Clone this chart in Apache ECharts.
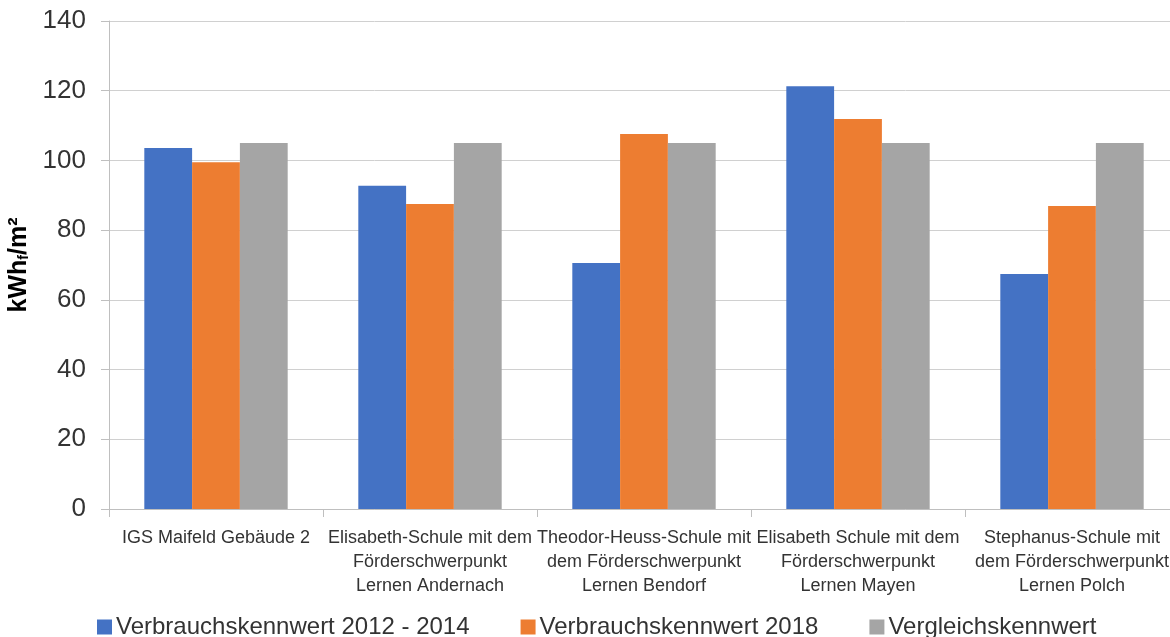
<!DOCTYPE html>
<html><head><meta charset="utf-8">
<script src="https://cdn.jsdelivr.net/npm/echarts@6/dist/echarts.min.js"></script>
<style>html,body{margin:0;padding:0;background:#fff}#c{width:1170px;height:637px}</style>
</head><body><div id="c"></div>
<script>
const categories = [
  "IGS Maifeld Gebäude 2",
  "Elisabeth-Schule mit dem\nFörderschwerpunkt\nLernen Andernach",
  "Theodor-Heuss-Schule mit\ndem Förderschwerpunkt\nLernen Bendorf",
  "Elisabeth Schule mit dem\nFörderschwerpunkt\nLernen Mayen",
  "Stephanus-Schule mit\ndem Förderschwerpunkt\nLernen Polch"
];
const seriesNames = ["Verbrauchskennwert 2012 - 2014", "Verbrauchskennwert 2018", "Vergleichskennwert"];
const values2012_2014 = [103.6, 92.7, 70.6, 121.3, 67.4];
const values2018 = [99.5, 87.5, 107.6, 111.9, 86.9];
const valuesVergleich = [105, 105, 105, 105, 105];
const colors = ["#4472C4", "#ED7D31", "#A5A5A5"];

const font = "Liberation Sans, sans-serif";
const chart = echarts.init(document.getElementById('c'));
chart.setOption({
  animation: false,
  textStyle: { fontFamily: font },
  grid: { left: 109, width: 1070, top: 21, bottom: 128, containLabel: false, outerBoundsMode: 'none' },
  legend: {
    top: 610, left: 92,
    itemWidth: 15, itemHeight: 15, itemGap: 51,
    icon: 'rect',
    textStyle: { fontSize: 24, color: '#333333', fontFamily: font, padding: [0,0,0,-1] },
    data: seriesNames
  },
  xAxis: {
    type: 'category', data: categories,
    axisLine: { lineStyle: { color: '#bfbfbf', width: 1 } },
    axisTick: { show: true, length: 8, lineStyle: { color: '#bfbfbf' } },
    axisLabel: { interval: 0, fontSize: 18, color: '#333333', lineHeight: 24, margin: 17, fontFamily: font }
  },
  yAxis: {
    type: 'value', min: 0, max: 140, interval: 20,
    name: '{a|kWh}{b|f}{a|/m²}',
    nameLocation: 'middle', nameGap: 59, nameRotate: 90,
    nameTextStyle: {
      rich: {
        a: { fontSize: 25, fontWeight: 'bold', color: '#000', fontFamily: font },
        b: { fontSize: 14, fontWeight: 'bold', color: '#000', fontFamily: font, padding: [9,0,0,0] }
      }
    },
    axisLine: { show: true, lineStyle: { color: '#bfbfbf' } },
    axisTick: { show: true, length: 8, lineStyle: { color: '#bfbfbf' } },
    axisLabel: { fontSize: 26, color: '#333333', margin: 23, fontFamily: font },
    splitLine: { lineStyle: { color: '#d0d0d0', width: 1 } }
  },
  series: [
    { name: seriesNames[0], type: 'bar', data: values2012_2014, itemStyle: { color: colors[0] }, barGap: '0%', barCategoryGap: '33%' },
    { name: seriesNames[1], type: 'bar', data: values2018, itemStyle: { color: colors[1] }, barGap: '0%', barCategoryGap: '33%' },
    { name: seriesNames[2], type: 'bar', data: valuesVergleich, itemStyle: { color: colors[2] }, barGap: '0%', barCategoryGap: '33%' }
  ]
});
</script></body></html>
